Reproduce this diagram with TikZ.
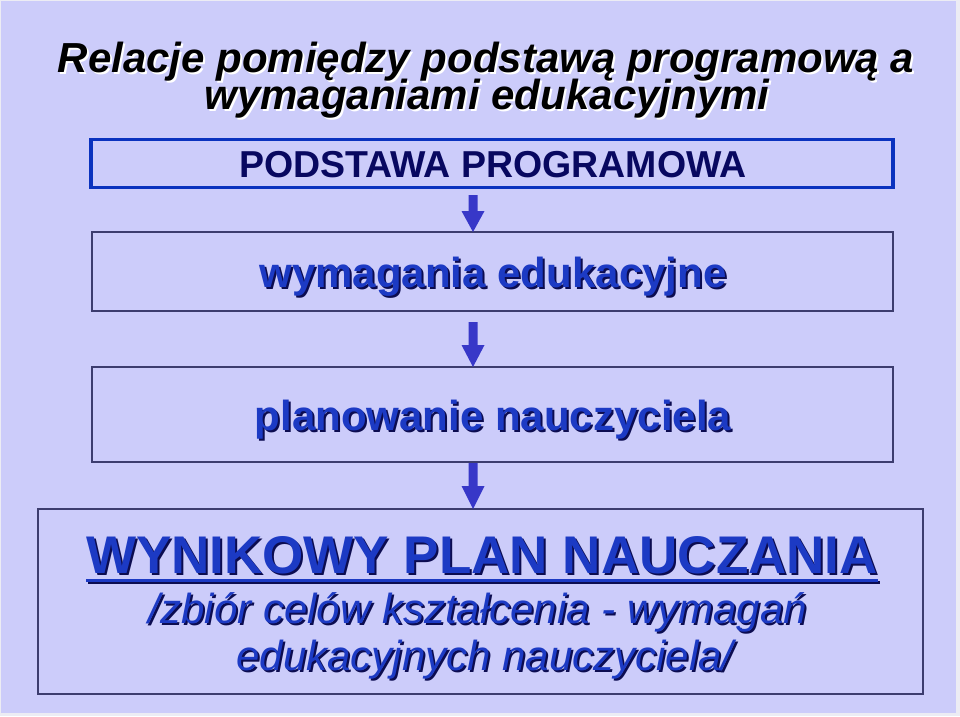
\documentclass[tikz,border=0pt]{standalone}
\usepackage{fontspec}
\setmainfont{Liberation Sans}
\usetikzlibrary{calc}
\definecolor{bg}{RGB}{204,204,250}
\definecolor{edgec}{RGB}{236,236,244}
\definecolor{bluetxt}{RGB}{28,58,196}
\definecolor{shadowblue}{RGB}{12,12,80}
\definecolor{navy}{RGB}{8,8,96}
\definecolor{boxblue}{RGB}{10,50,190}
\definecolor{boxline}{RGB}{60,60,110}
\definecolor{arrowc}{RGB}{55,55,200}
\begin{document}
\begin{tikzpicture}[x=1pt,y=-1pt,
  txt/.style={anchor=base, inner sep=0pt, outer sep=0pt},
  titlef/.style={txt, font=\fontsize{42}{48}\selectfont\bfseries\itshape},
  headf/.style={txt, font=\fontsize{37.5}{42}\selectfont\bfseries, text=navy},
  boldf/.style={txt, font=\fontsize{42}{48}\selectfont\bfseries},
  bigf/.style={txt, font=\fontsize{53}{60}\selectfont\bfseries},
  itf/.style={txt, font=\fontsize{42}{48}\selectfont\itshape},
  blueT/.style={text=bluetxt},
  shadB/.style={text=shadowblue},
  shadW/.style={text=white},
  thinbox/.style={draw=boxline, line width=1.3pt, inner sep=0pt, outer sep=0pt},
  bluebox/.style={draw=boxblue, line width=3.5pt, inner sep=0pt, outer sep=0pt},
  blockarrow/.style={fill=arrowc}
]
\useasboundingbox (0,0) rectangle (960,716);
\fill[edgec] (0,0) rectangle (960,716);
\fill[bg] (1,1) rectangle (956,713);

% title
\node[titlef, shadW] (t1s) at (488,74) {Relacje pomiędzy podstawą programową a};
\node[titlef] (t1) at (486,72) {Relacje pomiędzy podstawą programową a};
\node[titlef, shadW] (t2s) at (489,111) {wymaganiami edukacyjnymi};
\node[titlef] (t2) at (487,109) {wymaganiami edukacyjnymi};

% boxes
\node[bluebox, minimum width=802pt, minimum height=48pt] (b1) at (492,163.5) {};
\node[thinbox, minimum width=801pt, minimum height=79pt] (b2) at (492.5,271.5) {};
\node[thinbox, minimum width=801pt, minimum height=95pt] (b3) at (492.5,414.5) {};
\node[thinbox, minimum width=885pt, minimum height=185pt] (b4) at (480.5,601.5) {};

% box texts
\node[headf] (h1) at (493,177) {PODSTAWA PROGRAMOWA};

\node[boldf, shadB] (w1s) at (495,289) {wymagania edukacyjne};
\node[boldf, blueT] (w1) at (493,287) {wymagania edukacyjne};

\node[boldf, shadB] (p1s) at (495,432) {planowanie nauczyciela};
\node[boldf, blueT] (p1) at (493,430) {planowanie nauczyciela};

\node[bigf, shadB] (r1s) at (484,575) {WYNIKOWY PLAN NAUCZANIA};
\draw[shadowblue, line width=3pt] ($(r1s.base west)+(0,7)$) -- ($(r1s.base east)+(0,7)$);
\node[bigf, blueT] (r1) at (482,573) {WYNIKOWY PLAN NAUCZANIA};
\draw[bluetxt, line width=3pt] ($(r1.base west)+(0,7)$) -- ($(r1.base east)+(0,7)$);

\node[itf, shadB] (r2s) at (480,625) {/zbiór celów kształcenia - wymagań};
\node[itf, blueT] (r2) at (478,623) {/zbiór celów kształcenia - wymagań};
\node[itf, shadB] (r3s) at (487,672) {edukacyjnych nauczyciela/};
\node[itf, blueT] (r3) at (485,670) {edukacyjnych nauczyciela/};

% block arrows (tip on the top edge of the next box)
\coordinate (ax) at (473,0);
\fill[blockarrow] (b2.north -| ax) -- ++(-11.5,-21) -- ++(7,0) -- ++(0,-16) -- ++(9,0) -- ++(0,16) -- ++(7,0) -- cycle;
\fill[blockarrow] (b3.north -| ax) -- ++(-11.5,-22) -- ++(7,0) -- ++(0,-23) -- ++(9,0) -- ++(0,23) -- ++(7,0) -- cycle;
\fill[blockarrow] (b4.north -| ax) -- ++(-11.5,-23) -- ++(7,0) -- ++(0,-23) -- ++(9,0) -- ++(0,23) -- ++(7,0) -- cycle;
\end{tikzpicture}
\end{document}
